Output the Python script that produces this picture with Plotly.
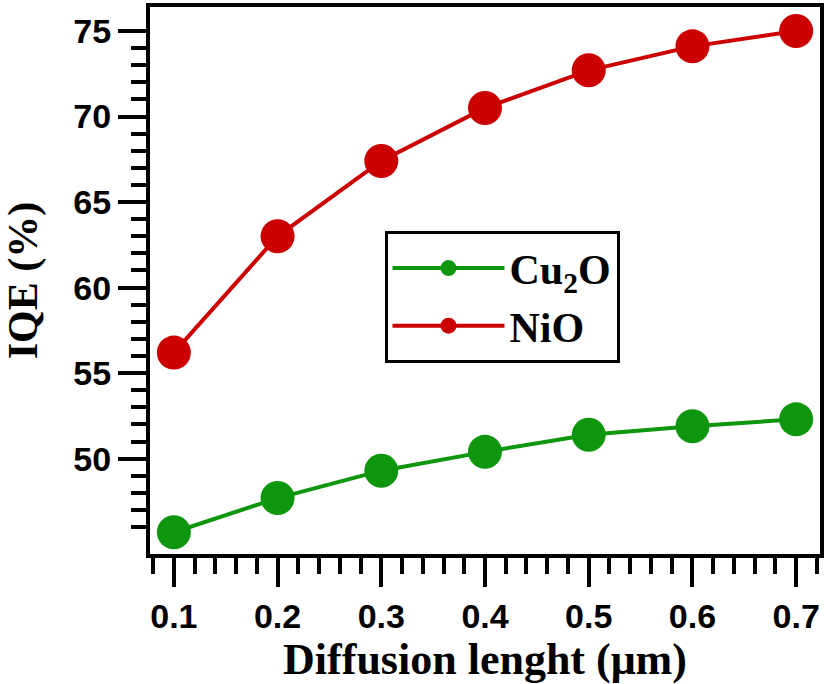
import plotly.graph_objects as go

# diffusion length (um) and IQE (%)
diffusion_length = [0.1, 0.2, 0.3, 0.4, 0.5, 0.6, 0.7]
iqe_cu2o = [45.7, 47.7, 49.3, 50.4, 51.4, 51.9, 52.3]
iqe_nio = [56.2, 63.0, 67.4, 70.5, 72.7, 74.1, 75.0]

y_ticks = [50, 55, 60, 65, 70, 75]
y_minor = [v for v in range(46, 76) if v % 5 != 0]

GREEN = "#0f960f"
RED = "#cc0000"

fig = go.Figure()
fig.add_trace(go.Scatter(
    x=diffusion_length, y=iqe_cu2o, name="Cu<sub>2</sub>O",
    mode="lines+markers",
    line=dict(color=GREEN, width=4),
    marker=dict(color=GREEN, size=34),
))
fig.add_trace(go.Scatter(
    x=diffusion_length, y=iqe_nio, name="NiO",
    mode="lines+markers",
    line=dict(color=RED, width=4),
    marker=dict(color=RED, size=34),
))

tick_font = dict(family="Liberation Sans", size=34, color="black", weight="bold")

fig.update_xaxes(
    range=[0.077, 0.723],
    tickvals=diffusion_length,
    ticktext=[f"{v:.1f}" for v in diffusion_length],
    ticks="outside", ticklen=29, tickwidth=4, tickcolor="black",
    minor=dict(dtick=0.02, tick0=0.1, ticks="outside", ticklen=16,
               tickwidth=4, tickcolor="black"),
    showline=True, linewidth=4, linecolor="black", mirror=True,
    showgrid=False, zeroline=False,
    tickfont=tick_font,
    title=dict(text="Diffusion lenght (μm)", standoff=2,
               font=dict(family="Liberation Serif", size=44, color="black", weight="bold")),
)
fig.update_yaxes(
    range=[44.43, 76.4],
    tickvals=y_ticks,
    ticks="outside", ticklen=28, tickwidth=4, tickcolor="black",
    minor=dict(tickvals=y_minor, ticks="outside", ticklen=15,
               tickwidth=4, tickcolor="black"),
    showline=True, linewidth=4, linecolor="black", mirror=True,
    showgrid=False, zeroline=False,
    tickfont=tick_font,
    title=dict(text="IQE (%)", standoff=28,
               font=dict(family="Liberation Serif", size=42, color="black", weight="bold")),
)

fig.update_layout(
    width=827, height=684,
    margin=dict(l=150, r=5, t=3, b=130),
    plot_bgcolor="white", paper_bgcolor="white",
    legend=dict(
        x=0.35, y=0.59, xanchor="left", yanchor="top",
        bgcolor="white", bordercolor="black", borderwidth=3,
        itemwidth=112,
        font=dict(family="Liberation Serif", size=42, color="black", weight="bold"),
    ),
)

# drop the browser's default body margin so the figure sits at the window's corner
fig.write_html("out.html", config={"displayModeBar": False},
               post_script="document.body.style.margin='0';")
